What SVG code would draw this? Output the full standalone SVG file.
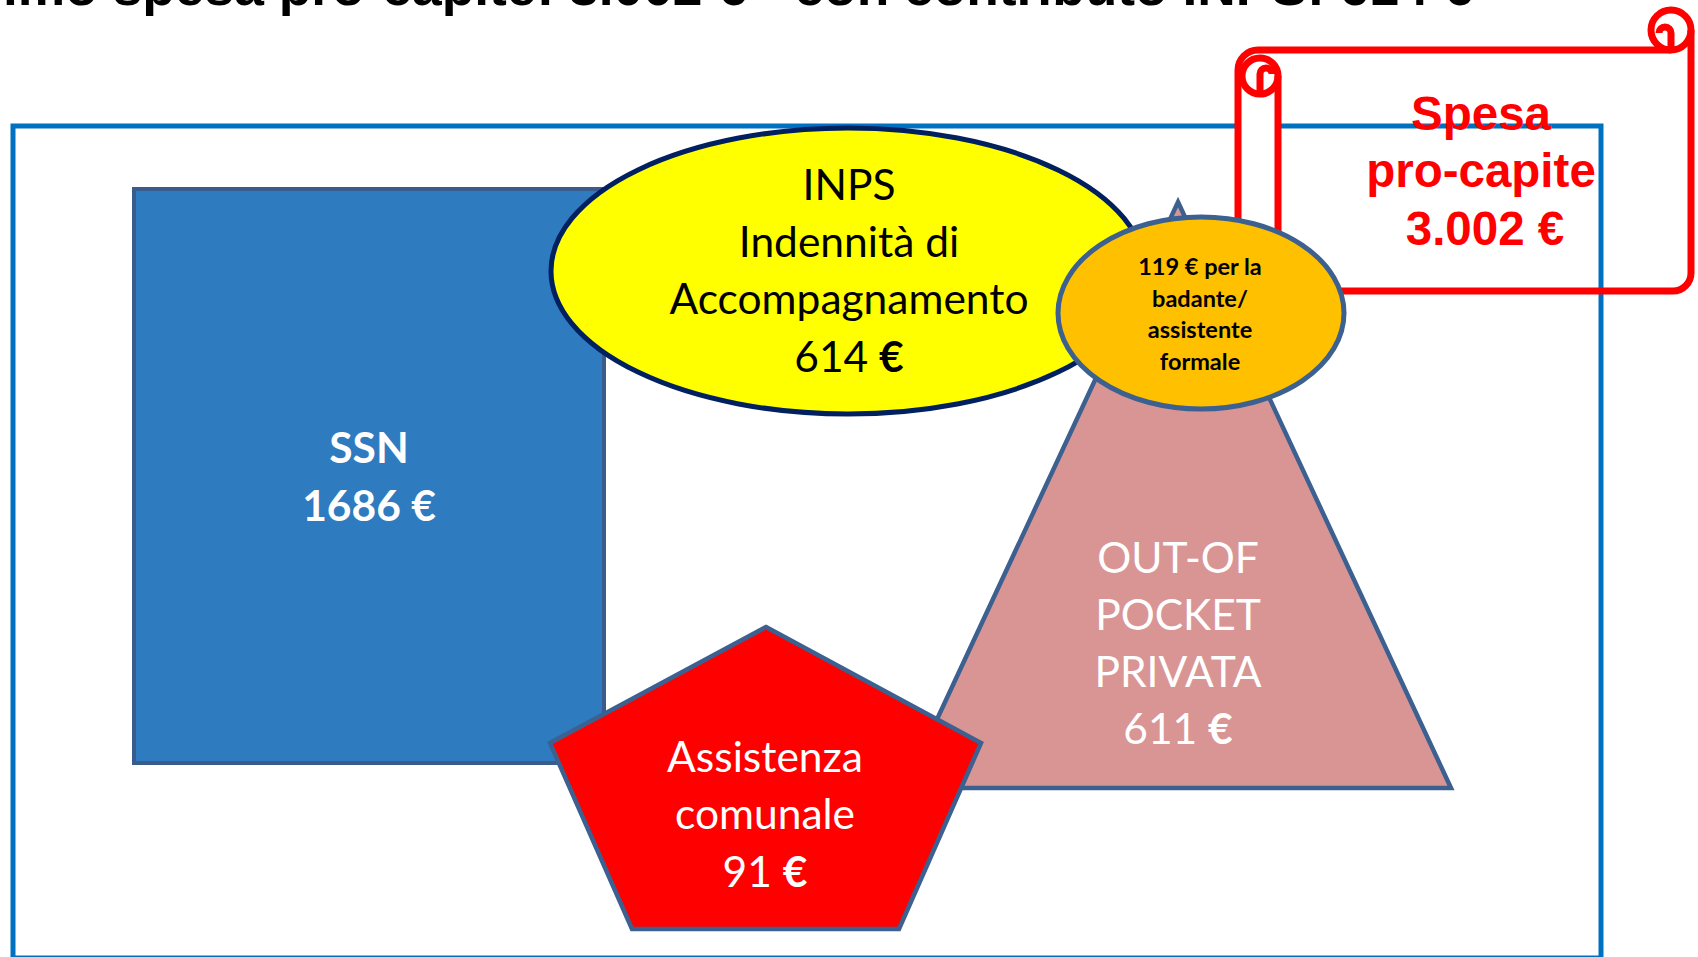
<svg xmlns="http://www.w3.org/2000/svg" width="1698" height="957" viewBox="0 0 1698 957">
<style>
.lbl{font-family:Lato,"Noto Sans",sans-serif;text-anchor:middle}
.big{font-size:42.5px}
.w{fill:#FFFFFF}
.k{fill:#000000}
.b{font-weight:bold}
.shape{stroke:#3C6090;stroke-width:4.5;stroke-linejoin:miter}
.scroll{fill:none;stroke:#FF0000;stroke-width:7;stroke-linejoin:round}
.red{font-family:"Liberation Sans",Arial,sans-serif;font-weight:bold;font-size:47.5px;fill:#FF0000;text-anchor:middle}
</style>
<rect width="1698" height="957" fill="#FFFFFF"/>
<g id="title">
<text x="3" y="5" font-family="Liberation Sans, Arial, sans-serif" font-weight="bold" font-size="51" textLength="1470" lengthAdjust="spacingAndGlyphs" fill="#000000">imo spesa pro-capite: 3.002 € - con contributo INPS: 614 €</text>
</g>
<g id="frame">
<rect x="13" y="126" width="1588" height="832" fill="none" stroke="#0070C0" stroke-width="5"/>
</g>
<g id="connectors"></g>
<g id="ssn">
<rect x="134" y="189" width="470" height="574" fill="#2E7BBF" stroke="#3A5C8C" stroke-width="4"/>
<text class="lbl big w b" x="369" y="463">SSN</text>
<text class="lbl big w b" x="369" y="521">1686 €</text>
</g>
<g id="inps">
<ellipse cx="848" cy="271" rx="297" ry="143" fill="#FFFF00" stroke="#002060" stroke-width="5"/>
<text class="lbl big k" x="849" y="200">INPS</text>
<text class="lbl big k" x="849" y="257">Indennità di</text>
<text class="lbl big k" x="849" y="314">Accompagnamento</text>
<text class="lbl big k" x="849" y="372">614 <tspan font-weight="bold">€</tspan></text>
</g>
<g id="out-of-pocket">
<polygon class="shape" points="1178,202 1451,788 905,788" fill="#D99594"/>
<text class="lbl big w" x="1178" y="573">OUT-OF</text>
<text class="lbl big w" x="1178" y="630">POCKET</text>
<text class="lbl big w" x="1178" y="687">PRIVATA</text>
<text class="lbl big w" x="1178" y="744">611 <tspan font-weight="bold">€</tspan></text>
</g>
<g id="spesa-pro-capite">
<path d="M1238,291 L1238,70 A20,20 0 0 1 1258,50 L1278,50 L1278,291 Z" fill="#FFFFFF"/>
<path class="scroll" d="M1238,300 L1238,70 A20,20 0 0 1 1258,50 L1671,50 M1691,30 L1691,273 A18,18 0 0 1 1673,291 L1270,291 M1278,76 L1278,291"/>
<circle class="scroll" cx="1260" cy="76" r="18" fill="#FFFFFF"/>
<path class="scroll" d="M1260,94 L1260,74 A6,6 0 0 1 1272,74"/>
<circle class="scroll" cx="1671" cy="30" r="20"/>
<path class="scroll" d="M1671,50 L1671,33 A6,6 0 0 0 1659,33"/>
<text class="red" x="1481" y="130">Spesa</text>
<text class="red" x="1481" y="187">pro-capite</text>
<text class="red" x="1485" y="245">3.002 €</text>
</g>
<g id="badante">
<ellipse cx="1201" cy="313" rx="143" ry="96" fill="#FFC000" stroke="#3C6090" stroke-width="5"/>
<text class="lbl k b" font-size="23.5" x="1200" y="275">119 € per la</text>
<text class="lbl k b" font-size="23.5" x="1200" y="307">badante/</text>
<text class="lbl k b" font-size="23.5" x="1200" y="338">assistente</text>
<text class="lbl k b" font-size="23.5" x="1200" y="370">formale</text>
</g>
<g id="assistenza-comunale">
<polygon class="shape" points="766,627 981,743 899,929 632,929 550,743" fill="#FF0000"/>
<text class="lbl big w" x="765" y="772">Assistenza</text>
<text class="lbl big w" x="765" y="829">comunale</text>
<text class="lbl big w" x="765" y="887">91 <tspan font-weight="bold">€</tspan></text>
</g>
</svg>
